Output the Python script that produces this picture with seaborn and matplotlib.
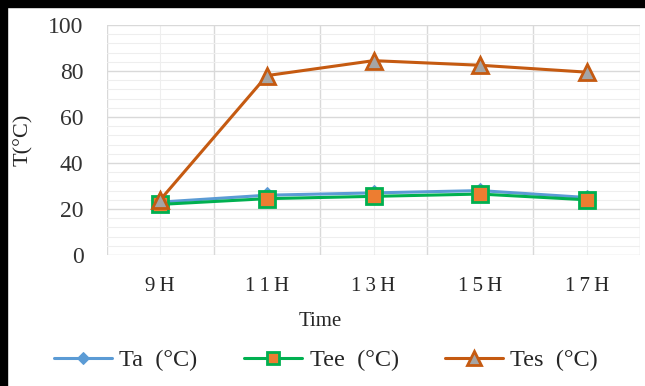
#!/usr/bin/env python3
"""Temperature vs time - line chart"""
import pandas as pd
import matplotlib.pyplot as plt
import seaborn as sns
from matplotlib.patches import Rectangle
from matplotlib.ticker import MultipleLocator, FixedLocator

# data
times = ['9H', '11H', '13H', '15H', '17H']
ta = [23, 26, 27, 28, 25]
tee = [22, 24.5, 25.5, 26.5, 24]
tes = [24, 78, 84.5, 82.5, 79.5]

sns.set_theme(style='white')
plt.rcParams['font.family'] = ['Liberation Serif', 'DejaVu Serif']

fig = plt.figure(figsize=(6.45, 3.86), dpi=100)
ax = fig.add_axes([107 / 645, 1 - 255 / 386, 533 / 645, 230 / 386])

df = pd.DataFrame({'time': times, 'Ta': ta, 'Tee': tee, 'Tes': tes})

sns.lineplot(data=df, x='time', y='Ta', ax=ax, color='#5B9BD5', linewidth=2.2,
             marker='D', markersize=8, markeredgecolor='#5B9BD5',
             label='Ta  (°C)', sort=False)
sns.lineplot(data=df, x='time', y='Tee', ax=ax, color='#00B050', linewidth=2.2,
             marker='s', markersize=11, markerfacecolor='#ED7D31',
             markeredgecolor='#00B050', markeredgewidth=2,
             label='Tee  (°C)', sort=False)
sns.lineplot(data=df, x='time', y='Tes', ax=ax, color='#C55A11', linewidth=2.2,
             marker='^', markersize=12, markerfacecolor='#A5A5A5',
             markeredgecolor='#C55A11', markeredgewidth=2,
             label='Tes  (°C)', sort=False)

ax.set_xlim(-0.5, 4.5)
ax.set_ylim(0, 100)
ax.yaxis.set_major_locator(MultipleLocator(20))
ax.yaxis.set_minor_locator(MultipleLocator(4))
ax.xaxis.set_minor_locator(FixedLocator([-0.5, 0.5, 1.5, 2.5, 3.5, 4.5]))
# excel-style spaced-out tick labels
ax.set_xticks(range(len(times)))
ax.set_xticklabels(['\u2009'.join(t) for t in times])

# grid: darker at majors
ax.grid(which='major', axis='y', color='#d9d9d9', linewidth=1)
ax.grid(which='minor', axis='y', color='#eeeeee', linewidth=0.8)
ax.grid(which='minor', axis='x', color='#d9d9d9', linewidth=1)
ax.grid(which='major', axis='x', color='#eeeeee', linewidth=0.8)
ax.set_axisbelow(True)
for s in ax.spines.values():
    s.set_visible(False)

ax.tick_params(axis='both', which='both', length=0)
ax.tick_params(axis='x', pad=16, labelsize=15)
ax.tick_params(axis='y', pad=17, labelsize=17)
for t in ax.get_yticklabels():
    t.set_color('#333333')

ax.set_xlabel('Time', fontsize=15)
ax.xaxis.set_label_coords((320 - 107) / 533, -(321 - 255) / 230)
ax.xaxis.label.set_va('center')
ax.set_ylabel('T(°C)', fontsize=16)
ax.yaxis.set_label_coords(-(107 - 23) / 533, 0.5)
ax.yaxis.label.set_va('center')

handles, labels = ax.get_legend_handles_labels()
ax.get_legend().remove()
fig.legend(handles, labels, loc='center', bbox_to_anchor=(326 / 645, 1 - 360 / 386),
           ncol=3, frameon=False, fontsize=17.5, handlelength=2.4, markerscale=0.8,
           columnspacing=1.9, handletextpad=0.3)

# black frame at top and left (cropped screenshot border)
fig.patches.append(Rectangle((0, 1 - 7 / 386), 1, 7 / 386, transform=fig.transFigure,
                             color='black', zorder=10))
fig.patches.append(Rectangle((0, 0), 7 / 645, 1, transform=fig.transFigure,
                             color='black', zorder=10))

fig.savefig('out.png', dpi=100)
